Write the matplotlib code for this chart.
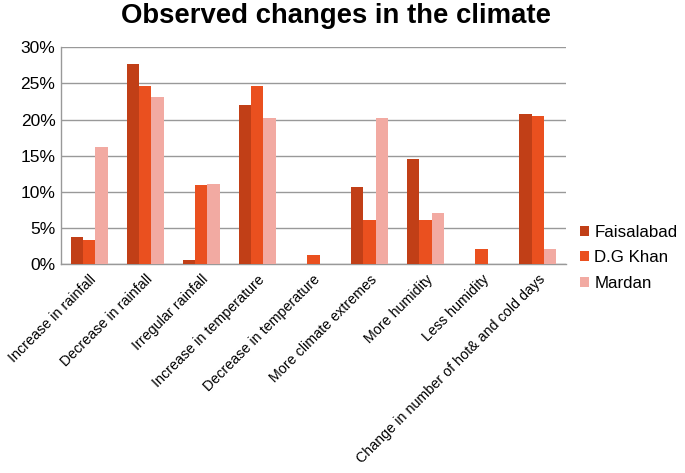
import matplotlib.pyplot as plt
import numpy as np

plt.rcParams["font.family"] = ["Liberation Sans", "DejaVu Sans"]

CATEGORIES = [
    "Increase in rainfall",
    "Decrease in rainfall",
    "Irregular rainfall",
    "Increase in temperature",
    "Decrease in temperature",
    "More climate extremes",
    "More humidity",
    "Less humidity",
    "Change in number of hot& and cold days",
]
FAISALABAD = [3.7, 27.7, 0.55, 22.0, 0.0, 10.65, 14.5, 0.0, 20.7]
DG_KHAN = [3.3, 24.65, 10.9, 24.65, 1.3, 6.1, 6.1, 2.0, 20.45]
MARDAN = [16.2, 23.1, 11.05, 20.2, 0.0, 20.2, 7.05, 0.0, 2.0]
SERIES_NAMES = ["Faisalabad", "D.G Khan", "Mardan"]
Y_TICKS = [0, 5, 10, 15, 20, 25, 30]

COLORS = ["#C13F17", "#EA501F", "#F2AAA2"]


def main():
    figure = plt.figure(figsize=(6.85, 4.73), dpi=100)
    axis = figure.add_axes([0.089, 0.442, 0.737, 0.458])

    positions = np.arange(len(CATEGORIES))
    width = 0.22
    for offset, values, name, color in zip(
        (-width, 0, width), (FAISALABAD, DG_KHAN, MARDAN), SERIES_NAMES, COLORS
    ):
        axis.bar(positions + offset, values, width, color=color, label=name, zorder=3)

    axis.set_xlim(-0.5, len(CATEGORIES) - 0.5)
    axis.set_ylim(0, 30)
    axis.set_yticks(Y_TICKS)
    axis.set_yticklabels([f"{t}%" for t in Y_TICKS], fontsize=12.5)
    axis.set_xticks(positions)
    axis.set_xticklabels(CATEGORIES, rotation=45, ha="right", rotation_mode="anchor",
                         fontsize=10.3)
    axis.tick_params(axis="both", length=0, pad=4)
    axis.tick_params(axis="x", pad=6)

    axis.grid(True, axis="y", color="#999999", linewidth=1.0, zorder=0)
    for side in ("top", "right"):
        axis.spines[side].set_visible(False)
    for side in ("left", "bottom"):
        axis.spines[side].set_color("#999999")
        axis.spines[side].set_linewidth(1.0)

    figure.text(0.49, 0.966, "Observed changes in the climate", ha="center", va="center",
                fontsize=19.8, fontweight="bold")

    axis.legend(loc="center left", bbox_to_anchor=(1.008, 0.028), frameon=False,
                fontsize=12.2, handlelength=0.55, handleheight=0.55, handletextpad=0.3,
                labelspacing=0.62, borderaxespad=0.2)

    figure.savefig("out.png", dpi=100)
    plt.close(figure)


if __name__ == "__main__":
    main()
